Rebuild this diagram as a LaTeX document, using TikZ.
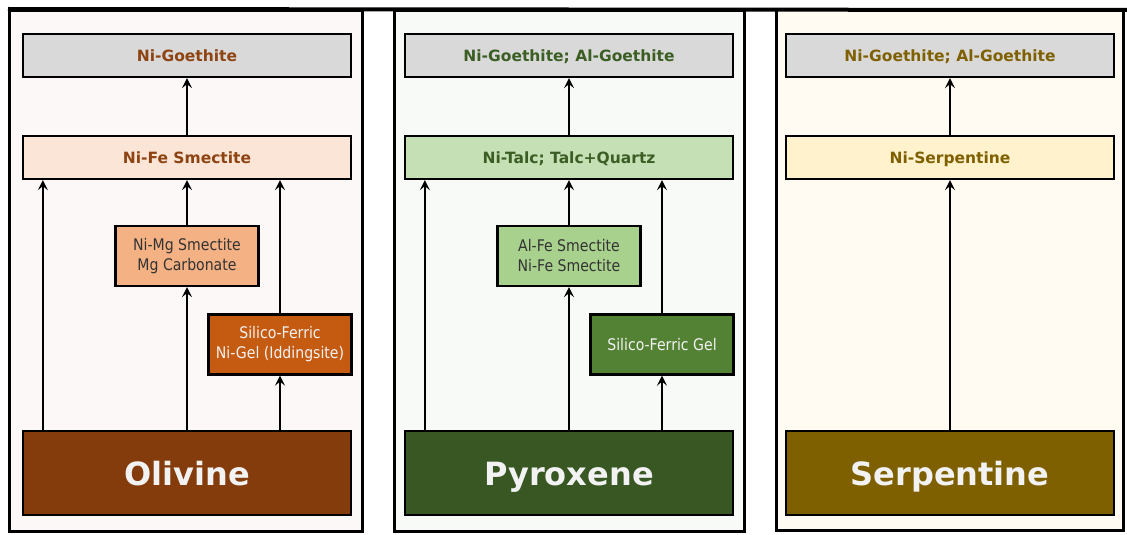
\documentclass[tikz,border=0pt]{standalone}
\usepackage{fontspec}
\setmainfont{DejaVu Sans}
\newfontfamily\narrowfont{DejaVu Sans}[FakeStretch=0.88]
\usepackage{xcolor}
\usetikzlibrary{arrows, arrows.meta, positioning}

\definecolor{topgray}{HTML}{D9D9D9}
\definecolor{bgolivine}{HTML}{FCF8F8}
\definecolor{bgpyroxene}{HTML}{F8FAF8}
\definecolor{bgserpentine}{HTML}{FFFBF3}
\definecolor{textolivine}{HTML}{8E4312}
\definecolor{textpyroxene}{HTML}{3B5E24}
\definecolor{textserpentine}{HTML}{7F6000}
\definecolor{midolivine}{HTML}{FBE5D6}
\definecolor{subolivine}{HTML}{F4B183}
\definecolor{gelolivine}{HTML}{C55A11}
\definecolor{rockolivine}{HTML}{843C0C}
\definecolor{midpyroxene}{HTML}{C5E0B4}
\definecolor{subpyroxene}{HTML}{A9D18E}
\definecolor{gelpyroxene}{HTML}{548235}
\definecolor{rockpyroxene}{HTML}{385723}
\definecolor{midserpentine}{HTML}{FFF2CC}
\definecolor{rockserpentine}{HTML}{7F6000}

\begin{document}
\begin{tikzpicture}[x=1pt, y=-1pt,
    panel/.style={rectangle, draw=black, line width=3pt, minimum height=521pt, inner sep=0pt},
    box/.style={rectangle, draw=black, line width=2.3pt, inner sep=0pt, text centered},
    topbox/.style={box, fill=topgray, minimum width=328pt, minimum height=43pt, text height=11.5pt, text depth=0pt, font=\bfseries\fontsize{15.5}{18}\selectfont},
    midbox/.style={topbox},
    subbox/.style={box, minimum width=143pt, minimum height=60pt, align=center, font=\narrowfont\fontsize{16}{20}\selectfont},
    rockbox/.style={box, minimum width=328pt, minimum height=84pt, text height=24pt, text depth=0pt, text=white!95!black, font=\bfseries\fontsize{32}{36}\selectfont},
    arrow/.style={-{Stealth[length=10pt, width=10pt, inset=4pt]}, line width=1.5pt}
]
\useasboundingbox (0,0) rectangle (1127,535);

% Panels
\node[panel, fill=bgolivine, minimum width=353pt] (panel1) at (186,271) {};
\node[panel, fill=bgpyroxene, minimum width=350pt] (panel2) at (569.5,271) {};
\node[panel, fill=bgserpentine, minimum width=347pt] (panel3) at (950,270) {};
\draw[line width=4pt] (panel1.north west) -- (1127,10);

% Olivine
\node[topbox, text=textolivine] (goe1) at (187,55.5) {Ni-Goethite};
\node[midbox, fill=midolivine, text=textolivine] (mid1) at (187,157.5) {Ni-Fe Smectite};
\node[subbox, fill=subolivine, text=black!80] (sub1) at (187,256) {Ni-Mg Smectite\\Mg Carbonate};
\node[subbox, fill=gelolivine, text=white!95!black] (gel1) at (280,344.5) {Silico-Ferric\\Ni-Gel (Iddingsite)};
\node[rockbox, fill=rockolivine] (rock1) at (187,473) {Olivine};

% Pyroxene
\node[topbox, text=textpyroxene] (goe2) at (569,55.5) {Ni-Goethite; Al-Goethite};
\node[midbox, fill=midpyroxene, text=textpyroxene] (mid2) at (569,157.5) {Ni-Talc; Talc+Quartz};
\node[subbox, fill=subpyroxene, text=black!80] (sub2) at (569,256) {Al-Fe Smectite\\Ni-Fe Smectite};
\node[subbox, fill=gelpyroxene, text=white!95!black] (gel2) at (662,344.5) {Silico-Ferric Gel};
\node[rockbox, fill=rockpyroxene] (rock2) at (569,473) {Pyroxene};

% Serpentine
\node[topbox, text=textserpentine] (goe3) at (950,55.5) {Ni-Goethite; Al-Goethite};
\node[midbox, fill=midserpentine, text=textserpentine] (mid3) at (950,157.5) {Ni-Serpentine};
\node[rockbox, fill=rockserpentine] (rock3) at (950,473) {Serpentine};

% Draw arrows
\draw[arrow] ([xshift=21pt]rock1.north west) -- ([xshift=21pt]mid1.south west);
\draw[arrow] (rock1) -- (sub1);
\draw[arrow] (sub1) -- (mid1);
\draw[arrow] (rock1.north -| gel1.south) -- (gel1);
\draw[arrow] (gel1) -- (gel1 |- mid1.south);
\draw[arrow] (mid1) -- (goe1);

\draw[arrow] ([xshift=21pt]rock2.north west) -- ([xshift=21pt]mid2.south west);
\draw[arrow] (rock2) -- (sub2);
\draw[arrow] (sub2) -- (mid2);
\draw[arrow] (rock2.north -| gel2.south) -- (gel2);
\draw[arrow] (gel2) -- (gel2 |- mid2.south);
\draw[arrow] (mid2) -- (goe2);

\draw[arrow] (rock3) -- (mid3);
\draw[arrow] (mid3) -- (goe3);

\end{tikzpicture}
\end{document}
